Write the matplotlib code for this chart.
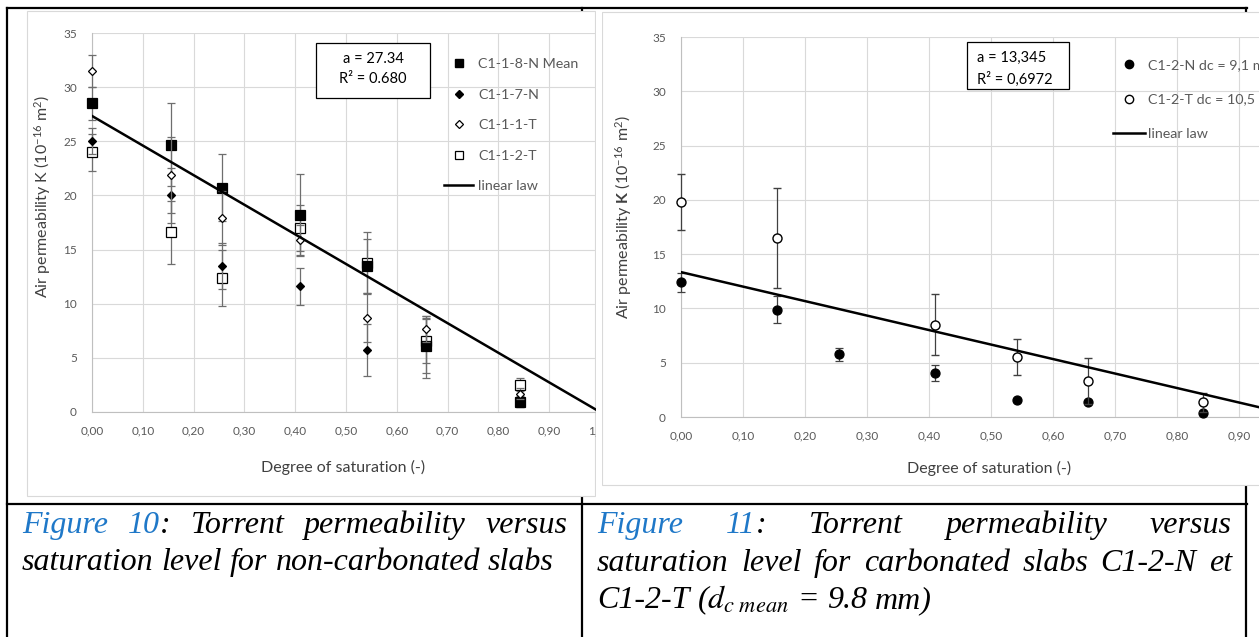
import matplotlib
matplotlib.use("Agg")
import matplotlib.pyplot as plt
import numpy as np
from matplotlib.lines import Line2D
from matplotlib.patches import Rectangle
from matplotlib.transforms import Bbox, TransformedBbox

plt.rcParams['font.family'] = ['Lato', 'DejaVu Sans']
plt.rcParams['mathtext.fontset'] = 'custom'
plt.rcParams['mathtext.rm'] = 'Lato'
plt.rcParams['mathtext.it'] = 'Lato:italic'
plt.rcParams['mathtext.bf'] = 'Lato:bold'

# ---------------- data ----------------
saturation = np.array([0.0, 0.155, 0.255, 0.41, 0.542, 0.657, 0.842])

# Figure 10 (non-carbonated)
mean_8N = np.array([28.5, 24.7, 20.7, 18.2, 13.5, 6.1, 0.9])
mean_8N_err = np.array([1.5, 3.8, 3.1, 3.8, 2.5, 2.5, 0.4])
c117N = np.array([25.0, 20.0, 13.5, 11.6, 5.7, 6.0, 1.0])
c117N_err = np.array([1.2, 2.5, 2.1, 1.7, 2.4, 2.9, 0.5])
c111T = np.array([31.5, 21.9, 17.9, 15.9, 8.7, 7.7, 1.7])
c111T_err = np.array([1.5, 3.5, 2.5, 1.4, 2.2, 1.2, 0.5])
c112T = np.array([24.0, 16.6, 12.4, 17.0, 13.8, 6.6, 2.5])
c112T_err = np.array([1.7, 2.9, 2.6, 2.1, 2.8, 2.1, 0.6])
a_left = 27.34
r2_left = "0.680"

# Figure 11 (carbonated)
c12N = np.array([12.4, 9.9, 5.8, 4.05, 1.55, 1.4, 0.35])
c12N_err = np.array([0.9, 1.2, 0.6, 0.75, 0.0, 0.0, 0.0])
c12T = np.array([19.8, 16.5, np.nan, 8.5, 5.5, 3.3, 1.35])
c12T_err = np.array([2.6, 4.6, np.nan, 2.8, 1.65, 2.1, 0.9])
a_right = 13.345
r2_right = "0,6972"

law_x = np.array([0.0, 1.0])

x_ticks = [0.0, 0.1, 0.2, 0.3, 0.4, 0.5, 0.6, 0.7, 0.8, 0.9, 1.0]
x_tick_labels = ['0,00', '0,10', '0,20', '0,30', '0,40', '0,50', '0,60', '0,70', '0,80', '0,90', '1,00']
y_ticks = [0, 5, 10, 15, 20, 25, 30, 35]

labels_left = ['C1-1-8-N Mean', 'C1-1-7-N', 'C1-1-1-T', 'C1-1-2-T', 'linear law']
labels_right = ['C1-2-N dc = 9,1 mm', 'C1-2-T dc = 10,5 mm', 'linear law']

# ---------------- figure ----------------
W, H = 1259, 637
fig = plt.figure(figsize=(W / 100, H / 100), dpi=100)


def fx(p):
    return p / W


def fy(p):
    return 1 - p / H


def hline(x0, x1, y, **kw):
    fig.add_artist(Line2D([fx(x0), fx(x1)], [fy(y), fy(y)], transform=fig.transFigure, **kw))


def vline(x, y0, y1, **kw):
    fig.add_artist(Line2D([fx(x), fx(x)], [fy(y0), fy(y1)], transform=fig.transFigure, **kw))


# table lines
tl = dict(color='black', lw=1.6, zorder=-3, solid_capstyle='projecting')
hline(7, 1247, 8, **tl)
hline(7, 1247, 504, **tl)
vline(7, 8, 640, **tl)
vline(582, 8, 640, **tl)
vline(1246, 8, 640, **tl)

# chart backgrounds
fig.add_artist(Rectangle((fx(27), fy(496)), (595 - 27) / W, (496 - 11) / H, transform=fig.transFigure,
                         facecolor='white', edgecolor='#D9D9D9', lw=0.8, zorder=-1))
fig.add_artist(Rectangle((fx(602), fy(485)), (1320 - 602) / W, (485 - 12) / H, transform=fig.transFigure,
                         facecolor='white', edgecolor='#D9D9D9', lw=0.8, zorder=-1))

ax1 = fig.add_axes([fx(92), fy(412), (600 - 92) / W, (412 - 33) / H])
ax2 = fig.add_axes([fx(681), fy(417), 620 / W, (417 - 37) / H])

TICK_SIZE = 8.5


def style(ax):
    ax.set_facecolor('none')
    ax.set_xlim(0, 1.0)
    ax.set_ylim(0, 35)
    ax.set_xticks(x_ticks)
    ax.set_xticklabels(x_tick_labels)
    ax.set_yticks(y_ticks)
    ax.grid(True, color='#D9D9D9', lw=0.8)
    ax.set_axisbelow(True)
    for s in ['top', 'right']:
        ax.spines[s].set_visible(False)
    for s in ['left', 'bottom']:
        ax.spines[s].set_color('#BFBFBF')
        ax.spines[s].set_linewidth(0.8)
    ax.tick_params(axis='both', length=0, labelsize=TICK_SIZE, labelcolor='#595959')
    ax.tick_params(axis='x', pad=9.5)
    ax.tick_params(axis='y', pad=11)


style(ax1)
style(ax2)

# the left chart image is cropped at its right edge
clipbox = TransformedBbox(Bbox([[fx(20), 0.0], [fx(595.5), 1.0]]), fig.transFigure)
for tk in ax1.xaxis.get_major_ticks():
    tk.label1.set_clip_box(clipbox)
    tk.label1.set_clip_on(True)


def eb(ax, y, err, marker, ms, mfc, ecolor, zorder, mew=0.9):
    cont = ax.errorbar(saturation, y, yerr=err, fmt=marker, ms=ms, mfc=mfc, mec='black', mew=mew,
                       ecolor=ecolor, elinewidth=0.9, capsize=3, capthick=0.9, zorder=zorder)
    for art in cont.get_children():
        art.set_clip_on(False)
    return cont


eb(ax1, c112T, c112T_err, 's', 6.5, 'white', '#6E6E6E', 3)
eb(ax1, c111T, c111T_err, 'D', 4.5, 'white', '#6E6E6E', 3.5)
eb(ax1, c117N, c117N_err, 'D', 4.5, 'black', '#6E6E6E', 3.2)
eb(ax1, mean_8N, mean_8N_err, 's', 6.5, 'black', '#6E6E6E', 3.1)
ax1.plot(law_x, a_left * (1 - law_x), color='black', lw=1.8, zorder=4)

eb(ax2, c12N, c12N_err, 'o', 6.5, 'black', '#404040', 3)
eb(ax2, c12T, c12T_err, 'o', 6.5, 'white', '#404040', 3.5, mew=1.0)
ax2.plot(law_x, a_right * (1 - law_x), color='black', lw=1.8, zorder=4)

# legends
LEG_SIZE = 10.3
h_left = [Line2D([], [], ls='none', marker='s', ms=6, mfc='black', mec='black'),
          Line2D([], [], ls='none', marker='D', ms=4.2, mfc='black', mec='black'),
          Line2D([], [], ls='none', marker='D', ms=4.2, mfc='white', mec='black', mew=0.9),
          Line2D([], [], ls='none', marker='s', ms=6, mfc='white', mec='black', mew=0.9),
          Line2D([], [], color='black', lw=1.8)]
ax1.legend(h_left, labels_left, loc='upper left', bbox_to_anchor=(fx(444), fy(58)),
           bbox_transform=fig.transFigure, frameon=False, borderpad=0, borderaxespad=0,
           handlelength=2.03, handletextpad=0.35, labelspacing=1.3, fontsize=LEG_SIZE,
           labelcolor='#595959')

h_right = [Line2D([], [], ls='none', marker='o', ms=6, mfc='black', mec='black'),
           Line2D([], [], ls='none', marker='o', ms=6, mfc='white', mec='black', mew=1.0),
           Line2D([], [], color='black', lw=1.8)]
ax2.legend(h_right, labels_right, loc='upper left', bbox_to_anchor=(fx(1113), fy(59)),
           bbox_transform=fig.transFigure, frameon=False, borderpad=0, borderaxespad=0,
           handlelength=2.24, handletextpad=0.21, labelspacing=1.58, fontsize=LEG_SIZE,
           labelcolor='#595959')

# axis titles
TITLE_SIZE = 11.5
fig.text(fx(43), fy(196), r'Air permeability K ($\mathregular{10^{-16}\ m^{2}}$)', rotation=90,
         ha='center', va='center', fontsize=TITLE_SIZE, color='#404040')
fig.text(fx(343), fy(467), 'Degree of saturation (-)', ha='center', va='center', fontsize=TITLE_SIZE,
         color='#404040')
fig.text(fx(624), fy(217), r'Air permeability $\mathbf{K}$ ($\mathregular{10^{-16}\ m^{2}}$)', rotation=90,
         ha='center', va='center', fontsize=TITLE_SIZE, color='#404040')
fig.text(fx(989), fy(468), 'Degree of saturation (-)', ha='center', va='center', fontsize=TITLE_SIZE,
         color='#404040')

# annotation boxes
ANN_SIZE = 10.5
fig.add_artist(Rectangle((fx(316), fy(98)), (430 - 316) / W, (98 - 43) / H, transform=fig.transFigure,
                         facecolor='white', edgecolor='black', lw=0.9, zorder=5))
fig.text(fx(373), fy(59), f'a = {a_left}', ha='center', va='center', fontsize=ANN_SIZE, color='black', zorder=6)
fig.text(fx(373), fy(79), f'R² = {r2_left}', ha='center', va='center', fontsize=ANN_SIZE, color='black',
         zorder=6)
fig.add_artist(Rectangle((fx(967), fy(89)), (1069 - 967) / W, (89 - 42) / H, transform=fig.transFigure,
                         facecolor='white', edgecolor='black', lw=0.9, zorder=5))
fig.text(fx(977), fy(58), 'a = ' + f'{a_right}'.replace('.', ','), ha='left', va='center', fontsize=ANN_SIZE,
         color='black', zorder=6)
fig.text(fx(977), fy(79), f'R² = {r2_right}', ha='left', va='center', fontsize=ANN_SIZE, color='black',
         zorder=6)

# mask the cropped right edge of the left chart image
fig.add_artist(Rectangle((fx(595.6), fy(498)), (601.5 - 595.6) / W, (498 - 10) / H, transform=fig.transFigure,
                         facecolor='white', edgecolor='none', zorder=10))

# ---------------- captions ----------------
BLUE = '#1F78C8'
K = 'black'
renderer = fig.canvas.get_renderer()
CAP_SIZE = 23


def place_line(words, x0, x1, yb, justify):
    items = []
    widths = []
    for word in words:
        segs = []
        w = 0
        for s, c in word:
            t = fig.text(0, fy(yb), s, fontsize=CAP_SIZE, family='Liberation Serif', style='italic',
                         color=c, va='baseline', ha='left', math_fontfamily='stix')
            bw = t.get_window_extent(renderer).width
            segs.append((t, bw))
            w += bw
        items.append(segs)
        widths.append(w)
    if justify and len(words) > 1:
        gap = (x1 - x0 - sum(widths)) / (len(words) - 1)
    else:
        gap = 0.25 * CAP_SIZE * 100 / 72
    x = x0
    for segs, w in zip(items, widths):
        xx = x
        for t, sw in segs:
            t.set_x(fx(xx))
            xx += sw
        x += w + gap


def plain(text):
    return [[(w, K)] for w in text.split()]


place_line([[('Figure', BLUE)], [('10', BLUE), (':', K)]] + plain('Torrent permeability versus'),
           22, 568, 533, True)
place_line(plain('saturation level for non-carbonated slabs'), 22, 568, 570, False)
place_line([[('Figure', BLUE)], [('11', BLUE), (':', K)]] + plain('Torrent permeability versus'),
           597, 1232, 533, True)
place_line(plain('saturation level for carbonated slabs C1-2-N et'), 597, 1232, 571, True)
place_line([[('C1-2-T', K)], [(r'($d_{c\ mean}$', K)], [('=', K)], [('9.8', K)], [('mm)', K)]],
           597, 1232, 608, False)

fig.savefig('out.png', dpi=100)
